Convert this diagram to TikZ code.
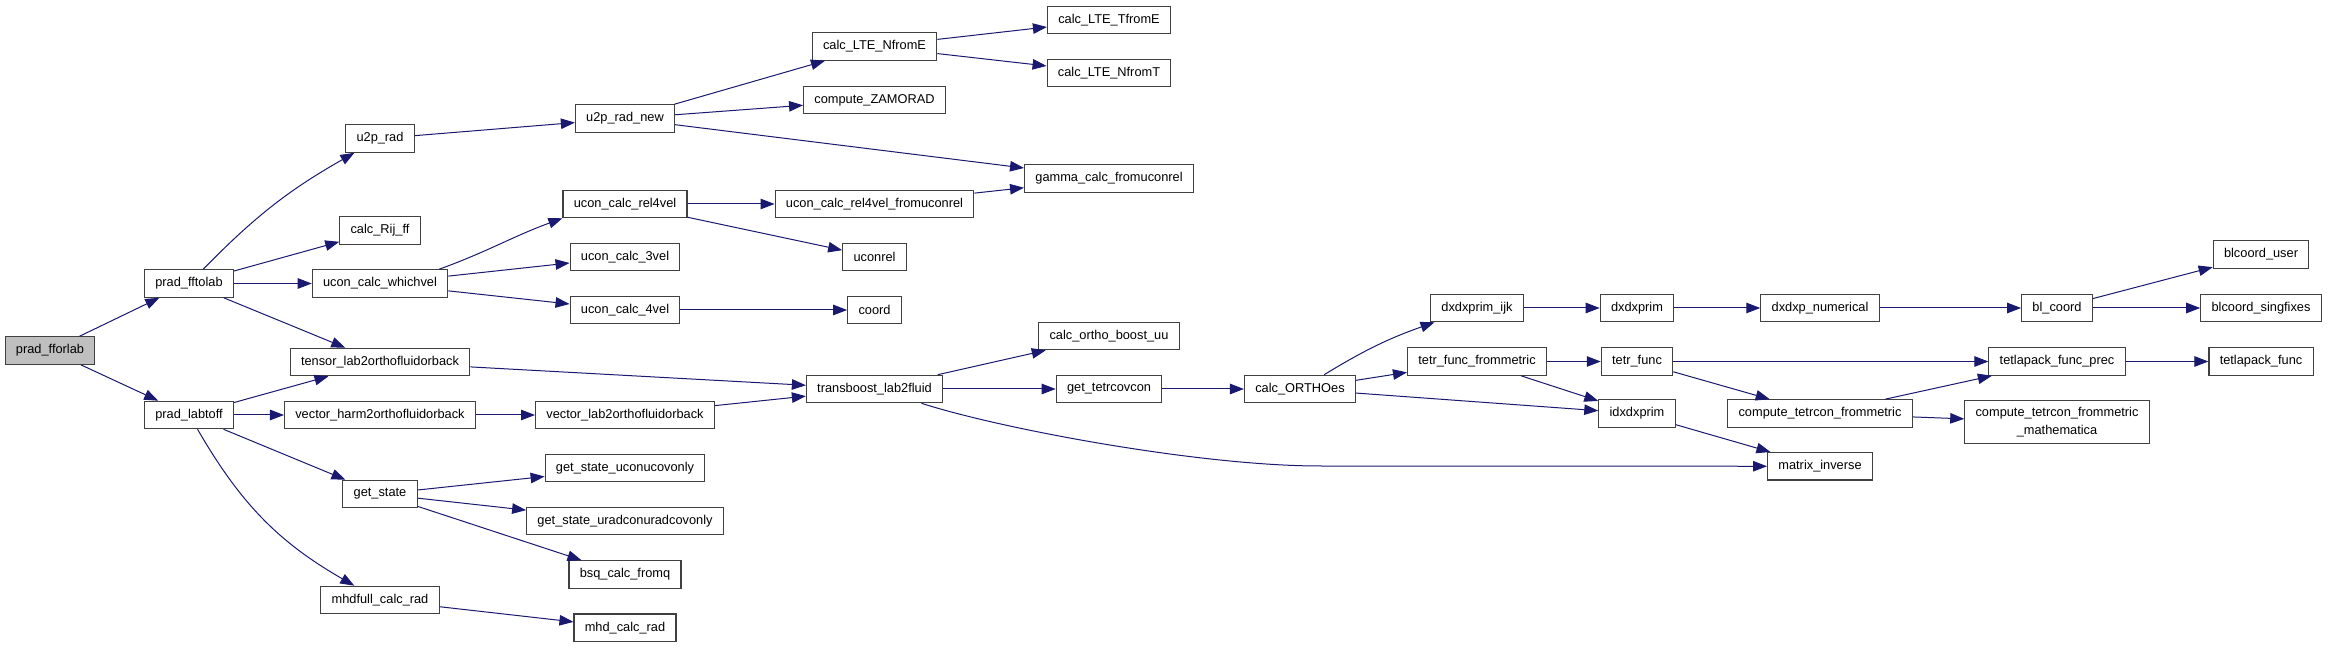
\documentclass[tikz,border=0pt]{standalone}
\usepackage{fontspec}
\setmainfont{Liberation Sans}
\usetikzlibrary{arrows.meta}
\definecolor{callblue}{RGB}{25, 25, 112}
\definecolor{rootgray}{RGB}{191, 191, 191}

\begin{document}
\begin{tikzpicture}[x=1pt, y=1pt,
  fbox/.style={draw=black!75, line width=1.1pt, fill=white, minimum height=27.5pt, inner xsep=10.8pt, inner ysep=0pt, font=\fontsize{12.8}{18}\selectfont, align=center},
  rootbox/.style={fbox, fill=rootgray},
  calls/.style={draw=callblue, line width=1pt, -{Triangle[length=14pt, width=10.5pt, fill=callblue]}}
]
  \useasboundingbox (0,0) rectangle (2328,648);

  \node[rootbox] (fforlab) at (50, 297.5) {prad\_fforlab};
  \node[fbox] (fftolab) at (189, 364.5) {prad\_fftolab};
  \node[fbox] (labtoff) at (189, 233) {prad\_labtoff};

  \node[fbox] (u2prad) at (380, 509.5) {u2p\_rad};
  \node[fbox] (rijff) at (380, 417.5) {calc\_Rij\_ff};
  \node[fbox] (whichvel) at (380, 364.5) {ucon\_calc\_whichvel};
  \node[fbox] (tensorlab) at (380, 286) {tensor\_lab2orthofluidorback};
  \node[fbox] (vectorharm) at (380, 233) {vector\_harm2orthofluidorback};
  \node[fbox] (getstate) at (380, 154) {get\_state};
  \node[fbox] (mhdfull) at (380, 48) {mhdfull\_calc\_rad};

  \node[fbox] (u2pnew) at (625, 529.5) {u2p\_rad\_new};
  \node[fbox] (rel4vel) at (625, 444) {ucon\_calc\_rel4vel};
  \node[fbox] (calc3vel) at (625, 391) {ucon\_calc\_3vel};
  \node[fbox] (calc4vel) at (625, 338) {ucon\_calc\_4vel};
  \node[fbox] (vectorlab) at (625, 233) {vector\_lab2orthofluidorback};
  \node[fbox] (uconucov) at (625, 180) {get\_state\_uconucovonly};
  \node[fbox] (uradcov) at (625, 127) {get\_state\_uradconuradcovonly};
  \node[fbox] (bsqcalc) at (625, 73.5) {bsq\_calc\_fromq};
  \node[fbox] (mhdcalc) at (625, 20.3) {mhd\_calc\_rad};

  \node[fbox] (nfrome) at (874.5, 601.5) {calc\_LTE\_NfromE};
  \node[fbox] (zamorad) at (874.5, 548) {compute\_ZAMORAD};
  \node[fbox] (relfromucon) at (874.5, 444) {ucon\_calc\_rel4vel\_fromuconrel};
  \node[fbox] (uconrel) at (874.5, 391) {uconrel};
  \node[fbox] (coord) at (874.5, 338) {coord};
  \node[fbox] (transboost) at (874.5, 259) {transboost\_lab2fluid};

  \node[fbox] (tfrome) at (1109, 628) {calc\_LTE\_TfromE};
  \node[fbox] (nfromt) at (1109, 575) {calc\_LTE\_NfromT};
  \node[fbox] (gammacalc) at (1109, 469.5) {gamma\_calc\_fromuconrel};
  \node[fbox] (orthoboost) at (1109, 312) {calc\_ortho\_boost\_uu};
  \node[fbox] (tetrcovcon) at (1109, 259) {get\_tetrcovcon};

  \node[fbox] (orthoes) at (1300, 259) {calc\_ORTHOes};
  \node[fbox] (dxijk) at (1477, 340) {dxdxprim\_ijk};
  \node[fbox] (tetrfrommetric) at (1477, 286.5) {tetr\_func\_frommetric};
  \node[fbox] (dxdxprim) at (1637, 340) {dxdxprim};
  \node[fbox] (tetrfunc) at (1637, 286.5) {tetr\_func};
  \node[fbox] (idxdxprim) at (1637, 234.5) {idxdxprim};

  \node[fbox] (dxdxpnum) at (1820, 340) {dxdxp\_numerical};
  \node[fbox] (tetrcon) at (1820, 234.5) {compute\_tetrcon\_frommetric};
  \node[fbox] (matinv) at (1820, 181.7) {matrix\_inverse};
  \node[fbox] (blcoord) at (2057, 340) {bl\_coord};
  \node[fbox] (tetlapprec) at (2057, 286.5) {tetlapack\_func\_prec};
  \node[fbox, inner ysep=6.5pt] (tetrconmath) at (2057, 225.7) {compute\_tetrcon\_frommetric\\\_mathematica};
  \node[fbox] (blcuser) at (2261, 393.5) {blcoord\_user};
  \node[fbox] (blcsing) at (2261, 340) {blcoord\_singfixes};
  \node[fbox] (tetlapack) at (2261, 286.5) {tetlapack\_func};

  \draw[calls] (fforlab) -- (fftolab);
  \draw[calls] (fforlab) -- (labtoff);
  \draw[calls] (fftolab) to[bend left=8] (u2prad);
  \draw[calls] (fftolab) -- (rijff);
  \draw[calls] (fftolab) -- (whichvel);
  \draw[calls] (fftolab) -- (tensorlab);
  \draw[calls] (labtoff) -- (tensorlab);
  \draw[calls] (labtoff) -- (vectorharm);
  \draw[calls] (labtoff) -- (getstate);
  \draw[calls] (labtoff) to[bend right=15] (mhdfull);
  \draw[calls] (u2prad) -- (u2pnew);
  \draw[calls] (u2pnew) -- (nfrome);
  \draw[calls] (u2pnew) -- (zamorad);
  \draw[calls] (u2pnew) -- (gammacalc);
  \draw[calls] (nfrome) -- (tfrome);
  \draw[calls] (nfrome) -- (nfromt);
  \draw[calls] ([xshift=-9pt]whichvel.north east) to[out=20, in=200] (rel4vel.south west);
  \draw[calls] (whichvel) -- (calc3vel);
  \draw[calls] (whichvel) -- (calc4vel);
  \draw[calls] (rel4vel) -- (relfromucon);
  \draw[calls] (rel4vel) -- (uconrel);
  \draw[calls] (relfromucon) -- (gammacalc);
  \draw[calls] (calc4vel) -- (coord);
  \draw[calls] (tensorlab) -- (transboost);
  \draw[calls] (vectorharm) -- (vectorlab);
  \draw[calls] (vectorlab) -- (transboost);
  \draw[calls] (getstate) -- (uconucov);
  \draw[calls] (getstate) -- (uradcov);
  \draw[calls] (getstate) -- (bsqcalc);
  \draw[calls] (mhdfull) -- (mhdcalc);
  \draw[calls] (transboost) -- (orthoboost);
  \draw[calls] (transboost) -- (tetrcovcon);
  \draw[calls] ([xshift=47pt]transboost.south) .. controls (1001,219) and (1200,182) .. (1320,182) -- (matinv);
  \draw[calls] (tetrcovcon) -- (orthoes);
  \draw[calls] (orthoes) to[bend left=6] (dxijk);
  \draw[calls] (orthoes) -- (tetrfrommetric);
  \draw[calls] (orthoes) -- (idxdxprim);
  \draw[calls] (dxijk) -- (dxdxprim);
  \draw[calls] (dxdxprim) -- (dxdxpnum);
  \draw[calls] (dxdxpnum) -- (blcoord);
  \draw[calls] (blcoord) -- (blcuser);
  \draw[calls] (blcoord) -- (blcsing);
  \draw[calls] (tetrfrommetric) -- (tetrfunc);
  \draw[calls] (tetrfrommetric) -- (idxdxprim);
  \draw[calls] (tetrfunc) -- (tetlapprec);
  \draw[calls] (tetrfunc) -- (tetrcon);
  \draw[calls] (tetrcon) -- (tetlapprec);
  \draw[calls] (tetrcon) -- (tetrconmath);
  \draw[calls] (tetlapprec) -- (tetlapack);
  \draw[calls] (idxdxprim) -- (matinv);
\end{tikzpicture}
\end{document}
